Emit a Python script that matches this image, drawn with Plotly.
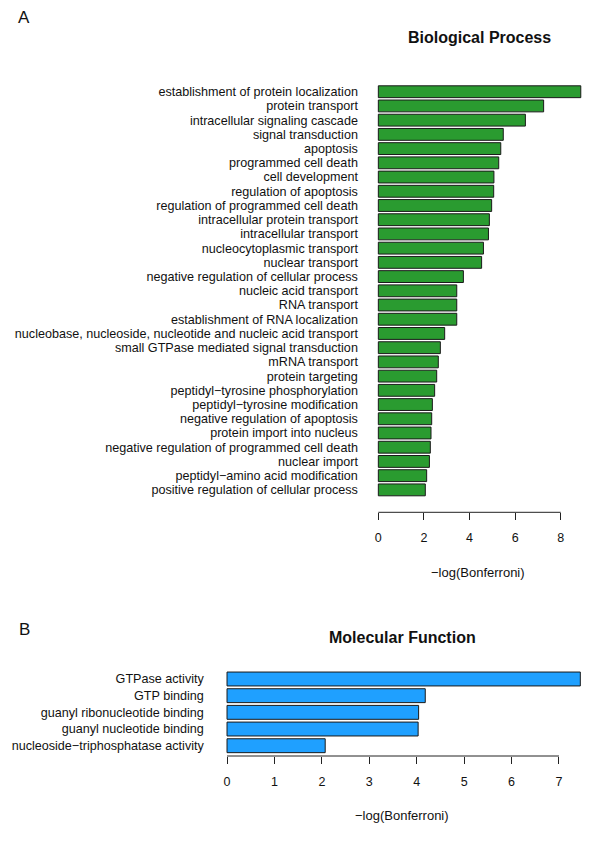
import plotly.graph_objects as go

# Panel A: Biological Process
bp_terms = [
    "establishment of protein localization", "protein transport",
    "intracellular signaling cascade", "signal transduction", "apoptosis",
    "programmed cell death", "cell development", "regulation of apoptosis",
    "regulation of programmed cell death", "intracellular protein transport",
    "intracellular transport", "nucleocytoplasmic transport", "nuclear transport",
    "negative regulation of cellular process", "nucleic acid transport",
    "RNA transport", "establishment of RNA localization",
    "nucleobase, nucleoside, nucleotide and nucleic acid transport",
    "small GTPase mediated signal transduction", "mRNA transport",
    "protein targeting", "peptidyl\u2212tyrosine phosphorylation",
    "peptidyl\u2212tyrosine modification", "negative regulation of apoptosis",
    "protein import into nucleus", "negative regulation of programmed cell death",
    "nuclear import", "peptidyl\u2212amino acid modification",
    "positive regulation of cellular process",
]
bp_values = [8.88, 7.25, 6.45, 5.48, 5.37, 5.28, 5.07, 5.06, 4.97, 4.87,
             4.83, 4.61, 4.53, 3.73, 3.44, 3.44, 3.44, 2.91, 2.72, 2.63,
             2.56, 2.47, 2.37, 2.34, 2.31, 2.28, 2.24, 2.12, 2.06]
bp_ticks = [0, 2, 4, 6, 8]

# Panel B: Molecular Function
mf_terms = ["GTPase activity", "GTP binding", "guanyl ribonucleotide binding",
            "guanyl nucleotide binding", "nucleoside\u2212triphosphatase activity"]
mf_values = [7.45, 4.18, 4.04, 4.03, 2.07]
mf_ticks = [0, 1, 2, 3, 4, 5, 6, 7]

xlabel = "\u2212log(Bonferroni)"
FONT = "Liberation Sans, Arial, Helvetica, sans-serif"
OFF = 8  # page body margin
W, H = 600 - OFF, 843 - OFF

def px_x(p):
    return (p - OFF) / W

def px_y(p):
    return 1 - (p - OFF) / H

fig = go.Figure()
fig.add_trace(go.Bar(x=bp_values, y=bp_terms, orientation="h",
                     marker=dict(color="#2A9B30", line=dict(color="#1a1a1a", width=1)),
                     xaxis="x", yaxis="y", hoverinfo="x+y"))
fig.add_trace(go.Bar(x=mf_values, y=mf_terms, orientation="h",
                     marker=dict(color="#1FA0FF", line=dict(color="#1a1a1a", width=1)),
                     xaxis="x2", yaxis="y2", hoverinfo="x+y"))

nA = len(bp_terms)
nB = len(mf_terms)
extA = 0.04 * nA
extB = 0.04 * nB
hw = 0.5 / 1.2

axis_common = dict(showgrid=False, zeroline=False, showline=False, automargin=False)
tickfont = dict(family=FONT, size=12.5, color="#111")
labelfont = dict(family=FONT, size=12.6, color="#111")

fig.update_layout(
    width=W, height=H, margin=dict(l=0, r=0, t=0, b=0, autoexpand=False),
    paper_bgcolor="white", plot_bgcolor="white", showlegend=False,
    bargap=1 - 1 / 1.2,
    font=dict(family=FONT, color="#111"),
    xaxis=dict(domain=[px_x(369.9), px_x(589.0)], range=[-0.37, 9.24], anchor="y",
               tickvals=bp_ticks, ticks="outside", ticklen=7, tickcolor="#222",
               tickfont=tickfont, ticklabelstandoff=7, **axis_common),
    yaxis=dict(domain=[px_y(512.3), px_y(69.3)], type="category",
               range=[nA - 1 + hw + extA, -hw - extA], anchor="x",
               tickmode="array", tickvals=bp_terms,
               ticks="", tickfont=labelfont, ticklabelstandoff=11, **axis_common),
    xaxis2=dict(domain=[px_x(212.8), px_x(595.5)], range=[-0.3, 7.77], anchor="y2",
                tickvals=mf_ticks, ticks="outside", ticklen=7, tickcolor="#222",
                tickfont=tickfont, ticklabelstandoff=7, **axis_common),
    yaxis2=dict(domain=[px_y(756.0), px_y(668.7)], type="category",
                range=[nB - 1 + hw + extB, -hw - extB], anchor="x2",
                tickmode="array", tickvals=mf_terms,
                ticks="", tickfont=labelfont, ticklabelstandoff=8, **axis_common),
)

# axis lines spanning only the tick range (R style)
fig.add_shape(type="line", xref="x", yref="y domain", x0=bp_ticks[0], x1=bp_ticks[-1],
              y0=0, y1=0, line=dict(color="#222", width=1))
fig.add_shape(type="line", xref="x2", yref="y2 domain", x0=mf_ticks[0], x1=mf_ticks[-1],
              y0=0, y1=0, line=dict(color="#222", width=1))

ann = [
    dict(text="A", x=px_x(24), y=px_y(18), size=17),
    dict(text="B", x=px_x(24), y=px_y(629), size=17),
    dict(text="<b>Biological Process</b>", x=px_x(479), y=px_y(37), size=16),
    dict(text="<b>Molecular Function</b>", x=px_x(402), y=px_y(637), size=16),
    dict(text=xlabel, x=px_x(478), y=px_y(572), size=13),
    dict(text=xlabel, x=px_x(402), y=px_y(815), size=13),
]
for a in ann:
    fig.add_annotation(text=a["text"], x=a["x"], y=a["y"], xref="paper", yref="paper",
                       xanchor="center", yanchor="middle", showarrow=False,
                       font=dict(family=FONT, size=a["size"], color="#111"))

fig.write_html("out.html")
